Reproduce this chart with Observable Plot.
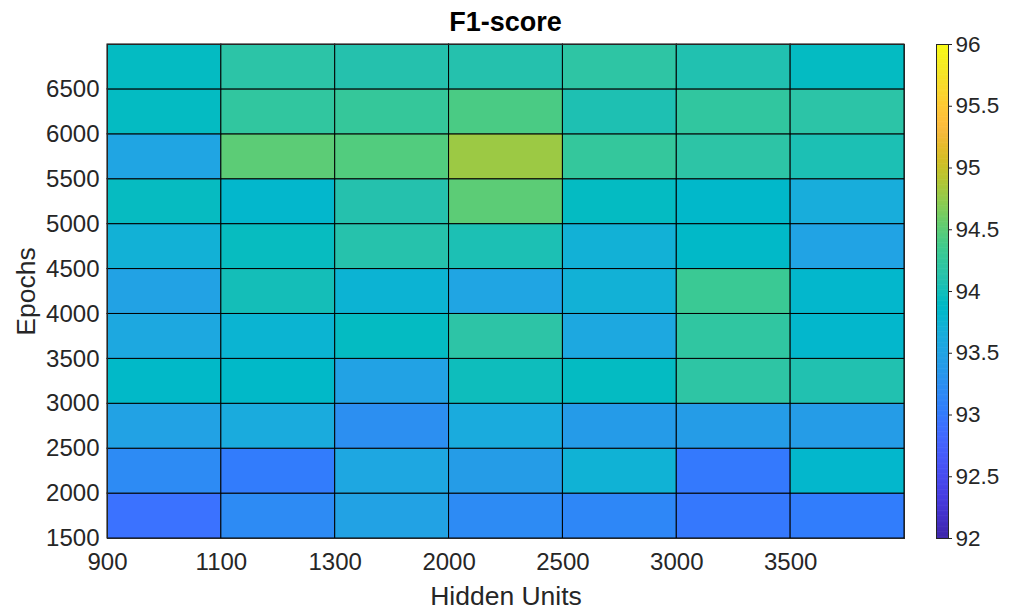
<!DOCTYPE html>
<html><head><meta charset="utf-8">
<script src="https://cdn.jsdelivr.net/npm/d3@7"></script>
<script src="https://cdn.jsdelivr.net/npm/@observablehq/plot@0.6"></script>
<style>
body{margin:0;background:#fff;}
#wrap{position:relative;width:1011px;height:610px;font-family:"Liberation Sans",Arial,sans-serif;}
#title{position:absolute;left:0;width:1011px;top:9px;text-align:center;font-weight:bold;font-size:27px;line-height:27px;color:#000}
#main{position:absolute;left:0;top:0;}
#cbar{position:absolute;left:936px;top:0;}
</style></head>
<body><div id="wrap"><div id="main"></div><div id="cbar"></div><div id="title">F1-score</div></div>
<script>
// Column categories (Hidden Units) and row categories (Epochs)
const hiddenUnits = [900, 1100, 1300, 2000, 2500, 3000, 3500];
const epochs = [1500, 2000, 2500, 3000, 3500, 4000, 4500, 5000, 5500, 6000, 6500];
// F1-score per epoch row (bottom to top), one value per hidden-unit column
const f1_1500 = [92.92, 93.19, 93.48, 93.19, 93.14, 92.98, 93.03];
const f1_2000 = [93.19, 93.02, 93.55, 93.41, 93.73, 92.99, 93.82];
const f1_2500 = [93.48, 93.62, 93.24, 93.62, 93.40, 93.41, 93.41];
const f1_3000 = [93.86, 93.86, 93.48, 93.98, 93.92, 94.18, 94.08];
const f1_3500 = [93.57, 93.76, 93.92, 94.17, 93.57, 94.21, 93.82];
const f1_4000 = [93.48, 94.01, 93.75, 93.52, 93.71, 94.31, 93.82];
const f1_4500 = [93.71, 93.94, 94.11, 94.05, 93.71, 93.86, 93.50];
const f1_5000 = [93.93, 93.82, 94.10, 94.50, 93.92, 93.84, 93.65];
const f1_5500 = [93.52, 94.50, 94.45, 94.79, 94.25, 94.17, 94.05];
const f1_6000 = [93.92, 94.22, 94.26, 94.41, 94.06, 94.22, 94.16];
const f1_6500 = [93.92, 94.16, 94.10, 94.10, 94.18, 94.08, 93.92];
const f1Rows = [f1_1500, f1_2000, f1_2500, f1_3000, f1_3500, f1_4000, f1_4500, f1_5000, f1_5500, f1_6000, f1_6500];
const colorbarTicks = [92, 92.5, 93, 93.5, 94, 94.5, 95, 95.5, 96];

// MATLAB parula colormap (64 entries)
const parula = [
[0.2422,0.1504,0.6603],[0.2504,0.1650,0.7076],[0.2578,0.1818,0.7511],[0.2647,0.1978,0.7952],
[0.2706,0.2147,0.8364],[0.2751,0.2342,0.8710],[0.2783,0.2559,0.8991],[0.2803,0.2782,0.9221],
[0.2813,0.3006,0.9414],[0.2810,0.3228,0.9579],[0.2795,0.3447,0.9717],[0.2760,0.3667,0.9829],
[0.2699,0.3892,0.9906],[0.2602,0.4123,0.9952],[0.2440,0.4358,0.9988],[0.2206,0.4603,0.9973],
[0.1963,0.4847,0.9892],[0.1834,0.5074,0.9798],[0.1786,0.5289,0.9682],[0.1764,0.5499,0.9520],
[0.1687,0.5703,0.9359],[0.1540,0.5902,0.9218],[0.1460,0.6091,0.9079],[0.1380,0.6276,0.8973],
[0.1248,0.6459,0.8883],[0.1113,0.6635,0.8763],[0.0952,0.6798,0.8598],[0.0689,0.6948,0.8394],
[0.0297,0.7082,0.8163],[0.0036,0.7203,0.7917],[0.0067,0.7312,0.7660],[0.0433,0.7411,0.7394],
[0.0964,0.7500,0.7120],[0.1408,0.7584,0.6842],[0.1717,0.7670,0.6554],[0.1938,0.7758,0.6251],
[0.2161,0.7843,0.5923],[0.2470,0.7918,0.5567],[0.2906,0.7973,0.5188],[0.3406,0.8008,0.4789],
[0.3909,0.8029,0.4354],[0.4456,0.8024,0.3909],[0.5044,0.7993,0.3480],[0.5616,0.7942,0.3045],
[0.6174,0.7876,0.2612],[0.6720,0.7793,0.2227],[0.7242,0.7698,0.1910],[0.7738,0.7598,0.1646],
[0.8203,0.7498,0.1535],[0.8634,0.7406,0.1596],[0.9035,0.7330,0.1774],[0.9393,0.7288,0.2100],
[0.9728,0.7298,0.2394],[0.9956,0.7434,0.2371],[0.9970,0.7659,0.2199],[0.9952,0.7893,0.2028],
[0.9892,0.8136,0.1885],[0.9786,0.8386,0.1766],[0.9676,0.8639,0.1643],[0.9610,0.8890,0.1537],
[0.9597,0.9135,0.1423],[0.9628,0.9373,0.1265],[0.9691,0.9606,0.1064],[0.9769,0.9839,0.0805]
].map(([r,g,b]) => d3.rgb(r*255, g*255, b*255).formatHex());

const colorOpts = {type: "linear", domain: [92, 96], interpolate: d3.piecewise(d3.interpolateRgb, parula)};

const cells = [];
f1Rows.forEach((row, r) => row.forEach((v, c) => cells.push({c, e: epochs[r], v})));

const font = "'Liberation Sans', Arial, Helvetica, sans-serif";
const ink = "#262626";

const main = Plot.plot({
  width: 1011, height: 610,
  marginLeft: 107, marginRight: 107, marginTop: 44, marginBottom: 72,
  style: {fontFamily: font, fontSize: "24px", color: ink, background: "transparent", overflow: "visible"},
  x: {type: "linear", domain: [0, hiddenUnits.length]},
  y: {domain: [1500, 7000]},
  color: colorOpts,
  marks: [
    Plot.rect(cells, {x1: "c", x2: d => d.c + 1, y1: "e", y2: d => d.e + 500, fill: "v",
      stroke: "black", strokeWidth: 1, inset: 0}),
    Plot.frame({stroke: ink, strokeWidth: 1}),
    Plot.axisX({ticks: d3.range(hiddenUnits.length), tickFormat: i => String(hiddenUnits[i]),
      tickSize: 0, tickPadding: 14, label: null, fontSize: 24}),
    Plot.axisY({ticks: epochs, tickFormat: d => String(d), tickSize: 0, tickPadding: 8,
      label: null, fontSize: 24}),
    Plot.axisX({label: "Hidden Units", labelAnchor: "center", labelArrow: "none", labelOffset: 66,
      ticks: [], tickSize: 0, fontSize: 26.5}),
    Plot.axisY({label: "Epochs", labelAnchor: "center", labelArrow: "none", labelOffset: 91,
      ticks: [], tickSize: 0, fontSize: 26.5})
  ]
});
document.getElementById("main").appendChild(main);

const step = 0.01;
const ramp = d3.range(92, 96, step);
const cbar = Plot.plot({
  width: 75, height: 610,
  marginLeft: 0, marginRight: 63, marginTop: 44, marginBottom: 72,
  style: {fontFamily: font, fontSize: "22.5px", color: ink, background: "transparent", overflow: "visible"},
  x: {domain: [0, 1], axis: null},
  y: {domain: [92, 96], ticks: colorbarTicks, tickFormat: d => String(d), axis: "right",
      tickSize: 3, tickPadding: 4, label: null},
  color: colorOpts,
  marks: [
    Plot.rect(ramp, {x1: 0, x2: 1, y1: d => d, y2: d => Math.min(96, d + step * 1.5), fill: d => d + step / 2}),
    Plot.frame({stroke: ink, strokeWidth: 1})
  ]
});
document.getElementById("cbar").appendChild(cbar);
</script>
</body></html>
